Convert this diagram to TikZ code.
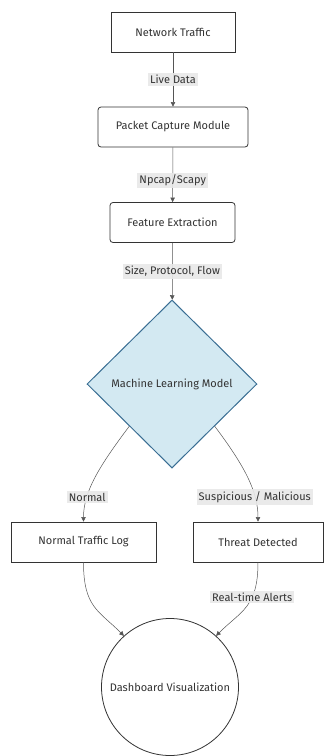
\documentclass[tikz,border=0pt]{standalone}
\usepackage{fontspec}
\setmainfont{Fira Sans}
\usepackage{xcolor}
\usetikzlibrary{shapes.geometric,arrows.meta}

\definecolor{inkgrey}{HTML}{333333}
\definecolor{edgegrey}{HTML}{555555}
\definecolor{lblgrey}{HTML}{E8E8E8}
\definecolor{modelfill}{HTML}{D3E9F2}
\definecolor{modelline}{HTML}{3A6E93}

\begin{document}
\begin{tikzpicture}[x=1pt,y=-1pt,
    font=\fontsize{11}{13}\selectfont, text=inkgrey,
    stepbox/.style={draw=inkgrey, line width=0.8pt, fill=white, rectangle, minimum height=40pt, inner sep=2pt},
    roundbox/.style={stepbox, rounded corners=3pt},
    flow/.style={draw=edgegrey, line width=0.5pt, -{Triangle[length=4.5pt,width=4.5pt]}},
    lbl/.style={fill=lblgrey, fill opacity=0.9, text opacity=1, inner sep=2pt}]
        \useasboundingbox (0,0) rectangle (324,756);
        \node [stepbox, minimum width=124pt] (nt) at (173,32) {Network Traffic};
        \node [roundbox, minimum width=150pt] (pcm) at (173,127) {Packet Capture Module};
        \node [roundbox, minimum width=125pt] (fe) at (172.5,222.5) {Feature Extraction};
        \node [diamond, draw=modelline, line width=1pt, fill=modelfill, minimum width=170pt, minimum height=168pt, inner sep=0pt] (ml) at (172,384) {Machine Learning Model};
        \node [stepbox, minimum width=145pt] (ntl) at (83.5,542) {Normal Traffic Log};
        \node [stepbox, minimum width=130pt] (td) at (258,542) {Threat Detected};
        \node [circle, draw=inkgrey, line width=0.8pt, fill=white, minimum size=137pt, inner sep=0pt] (dv) at (170,687) {Dashboard Visualization};
        \draw [flow] (nt) -- node [lbl] {Live Data} (pcm);
        \draw [flow] (pcm) -- node [lbl, pos=0.6] {Npcap/Scapy} (fe);
        \draw [flow] (fe) -- node [lbl] {Size, Protocol, Flow} (ml);
        \draw [flow] (ml.south west) .. controls +(-30,40) and +(0,-30) .. node [lbl, pos=0.72] {Normal} (ntl.north);
        \draw [flow] (ml.south east) .. controls +(30,40) and +(0,-30) .. node [lbl, pos=0.72] {Suspicious / Malicious} (td.north);
        \draw [flow] (ntl.south) .. controls +(0,45) and +(-25,-25) .. (dv.132);
        \draw [flow] (td.south) .. controls +(0,45) and +(25,-25) .. node [lbl, pos=0.35] {Real-time Alerts} (dv.48);
\end{tikzpicture}
\end{document}
